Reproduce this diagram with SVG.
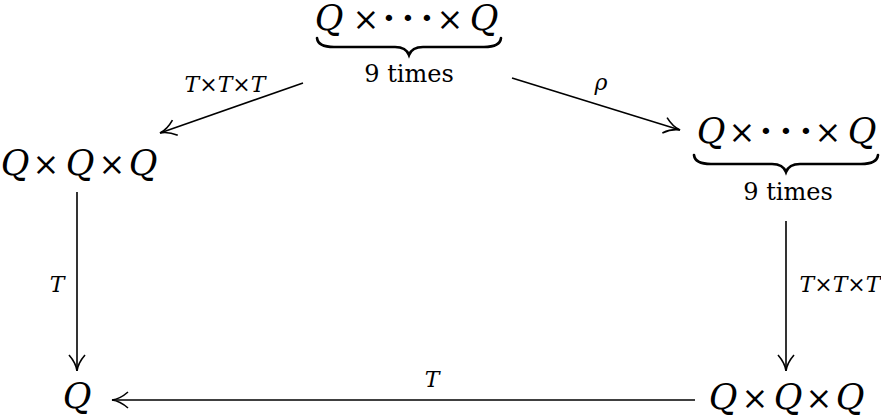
<svg xmlns="http://www.w3.org/2000/svg" width="881" height="416" viewBox="0 0 881 416">
<style>
.m{font-family:"DejaVu Serif","Liberation Serif",serif;font-style:italic;font-size:35px;fill:#000}
.x{font-style:normal;font-size:32px}
.d{font-style:normal;font-size:34px;font-weight:bold}
.r{font-family:"DejaVu Serif","Liberation Serif",serif;font-size:24px;fill:#000}
.l{font-family:"DejaVu Serif","Liberation Serif",serif;font-style:italic;font-size:22px;fill:#000}
.e{stroke:#000;stroke-width:1.6;fill:none}
.b{stroke:#000;stroke-width:2.6;fill:none;stroke-linecap:round}
</style>
<defs>
<marker id="a" viewBox="0 0 20 20" refX="18" refY="10" markerWidth="20" markerHeight="20" markerUnits="userSpaceOnUse" orient="auto">
<path d="M2,2 Q10,9 18,10 Q10,11 2,18" fill="none" stroke="#000" stroke-width="1.6"/>
</marker>
</defs>
<g id="top">
<text class="m" y="30" text-anchor="middle"><tspan x="329">Q</tspan><tspan class="x" x="366">×</tspan><tspan class="d" x="389 408 427">···</tspan><tspan class="x" x="450">×</tspan><tspan x="484">Q</tspan></text>
<path class="b" d="M317,38 Q318,47 334,47 L395,47 Q406,47 409,55 Q412,47 423,47 L484,47 Q500,47 501,38"/>
<text class="r" x="409" y="82" text-anchor="middle">9 times</text>
</g>
<g id="right">
<text class="m" y="143" text-anchor="middle"><tspan x="711">Q</tspan><tspan class="x" x="742">×</tspan><tspan class="d" x="766 786 806">···</tspan><tspan class="x" x="828">×</tspan><tspan x="862">Q</tspan></text>
<path class="b" d="M694,155 Q695,164 711,164 L772,164 Q783,164 786,172 Q789,164 800,164 L861,164 Q877,164 878,155"/>
<text class="r" x="788" y="200" text-anchor="middle">9 times</text>
</g>
<g id="left">
<text class="m" y="175" text-anchor="middle"><tspan x="15">Q</tspan><tspan class="x" x="46">×</tspan><tspan x="80">Q</tspan><tspan class="x" x="112">×</tspan><tspan x="143">Q</tspan></text>
</g>
<g id="bl">
<text class="m" x="77" y="408" text-anchor="middle">Q</text>
</g>
<g id="br">
<text class="m" y="409" text-anchor="middle"><tspan x="723">Q</tspan><tspan class="x" x="755">×</tspan><tspan x="788">Q</tspan><tspan class="x" x="819">×</tspan><tspan x="850">Q</tspan></text>
</g>
<g id="edges">
<line class="e" x1="303" y1="83" x2="160" y2="133" marker-end="url(#a)"/>
<line class="e" x1="512" y1="78" x2="680" y2="130" marker-end="url(#a)"/>
<line class="e" x1="77" y1="192" x2="77" y2="371" marker-end="url(#a)"/>
<line class="e" x1="786" y1="221" x2="786" y2="371" marker-end="url(#a)"/>
<line class="e" x1="695" y1="400" x2="112" y2="400" marker-end="url(#a)"/>
<text class="l" x="225" y="92" text-anchor="middle">T×T×T</text>
<text class="l" x="601" y="90" text-anchor="middle">ρ</text>
<text class="l" x="57" y="292" text-anchor="middle">T</text>
<text class="l" x="840" y="292" text-anchor="middle">T×T×T</text>
<text class="l" x="432" y="387" text-anchor="middle">T</text>
</g>
</svg>
